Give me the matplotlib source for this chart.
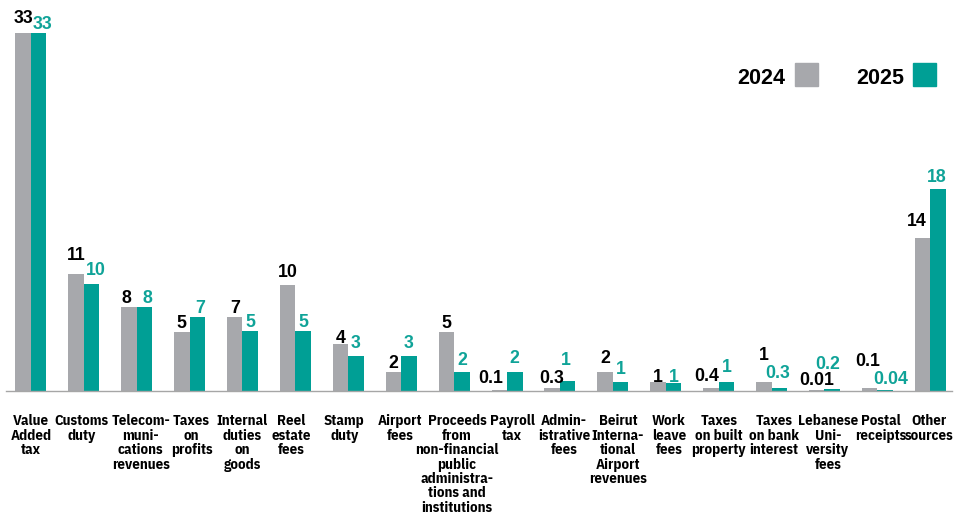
import matplotlib
matplotlib.use("Agg")
import matplotlib.pyplot as plt
from matplotlib.patches import Rectangle
from matplotlib.transforms import ScaledTranslation
import numpy as np

categories = [
    "Value\nAdded\ntax", "Customs\nduty", "Telecom-\nmuni-\ncations\nrevenues",
    "Taxes\non\nprofits", "Internal\nduties\non\ngoods", "Reel\nestate\nfees",
    "Stamp\nduty", "Airport\nfees",
    "Proceeds\nfrom\nnon-financial\npublic\nadministra-\ntions and\ninstitutions",
    "Payroll\ntax", "Admin-\nistrative\nfees", "Beirut\nInterna-\ntional\nAirport\nrevenues",
    "Work\nleave\nfees", "Taxes\non built\nproperty", "Taxes\non bank\ninterest",
    "Lebanese\nUni-\nversity\nfees", "Postal\nreceipts", "Other\nsources",
]
# bar heights
values_2024 = [33.0, 10.8, 7.75, 5.45, 6.85, 9.8, 4.35, 1.78, 5.47, 0.15, 0.35, 1.78,
               0.86, 0.35, 0.86, 0.1, 0.28, 14.1]
values_2025 = [33.0, 9.9, 7.75, 6.85, 5.55, 5.55, 3.26, 3.26, 1.78, 1.78, 0.95, 0.86,
               0.74, 0.86, 0.28, 0.18, 0.09, 18.6]
# printed value labels
labels_2024 = ["33", "11", "8", "5", "7", "10", "4", "2", "5", "0.1", "0.3", "2",
               "1", "0.4", "1", "0.01", "0.1", "14"]
labels_2025 = ["33", "10", "8", "7", "5", "5", "3", "3", "2", "2", "1", "1",
               "1", "1", "0.3", "0.2", "0.04", "18"]
series_names = ["2024", "2025"]

# label placement tweaks (pixels)
dx24 = [0, 0, -2, 0, 0, 0, 0, 0, 0, -9, 0, 0, 0, -4, 0, 0, -2, -5.5]
dx25 = [3.5, 4.5, 3, 2.5, 0, 0, 0, 0, 0, 0, -2, 0, 0, 0, -2, -5, 6, -1]
dy24 = [10, 14.3, 4.3, 3.7, 3.7, 8, 1.3, 4, 4, 7, 5, 9, 0, 7, 22, 5, 22, 12]
dy25 = [4.7, 8.7, 4.3, 3.7, 4.3, 4.3, 8, 8, 7, 9, 16, 8, 1, 10, 10, 20, 6, 7]
tick_dx = [0, -2, 4, 2, 0, -4, -4, -1, 3, 5, 4, 5, 3, 0, 2.5, 3.5, 3.5, -1]

GRAY = "#A7A8AC"
TEAL = "#009F95"
TEAL_TXT = "#0FA398"

W, H = 957, 515
fig = plt.figure(figsize=(W / 100, H / 100), dpi=100)
base_px = 391.3
ax = fig.add_axes([6 / W, (H - base_px) / H, (952 - 6) / W, base_px / H])

x = np.arange(len(categories))
w = 0.293
ax.bar(x - w / 2, values_2024, w, color=GRAY, linewidth=0)
ax.bar(x + w / 2, values_2025, w, color=TEAL, linewidth=0)

ax.set_xlim(-0.469, 17.41)
ax.set_ylim(0, base_px / 10.85)

px2pt = 72 / 100
vfont = dict(family=["Liberation Sans", "DejaVu Sans"], fontsize=12.8, fontweight="bold")
for i in range(len(categories)):
    ax.annotate(labels_2024[i], xy=(x[i] - w / 2, values_2024[i]),
                xytext=(dx24[i] * px2pt, dy24[i] * px2pt), textcoords="offset points",
                ha="center", va="baseline", color="black", **vfont)
    ax.annotate(labels_2025[i], xy=(x[i] + w / 2, values_2025[i]),
                xytext=(dx25[i] * px2pt, dy25[i] * px2pt), textcoords="offset points",
                ha="center", va="baseline", color=TEAL_TXT, **vfont)

for s in ["top", "right", "left"]:
    ax.spines[s].set_visible(False)
ax.spines["bottom"].set_color("#A6A6A6")
ax.spines["bottom"].set_linewidth(1.0)
ax.set_yticks([])
ax.set_xticks(x)
ax.set_xticklabels(categories,
                   family=["IBM Plex Sans Condensed", "Liberation Sans Narrow", "DejaVu Sans"],
                   fontsize=10.6, fontweight="bold", linespacing=1.04)
ax.tick_params(axis="x", length=0, pad=16.5)
for lbl, d in zip(ax.get_xticklabels(), tick_dx):
    lbl.set_transform(lbl.get_transform() + ScaledTranslation(d / 100, 0, fig.dpi_scale_trans))

# legend
lfont = dict(family=["Liberation Sans", "DejaVu Sans"], fontsize=15.5, fontweight="bold")
for name, tx, sx, col in [(series_names[0], 737, 795, GRAY), (series_names[1], 856, 912.7, TEAL)]:
    fig.text(tx / W, (H - 84) / H, name, ha="left", va="baseline", **lfont)
    fig.patches.append(Rectangle((sx / W, (H - 85.7) / H), 23 / W, 23 / H,
                                 transform=fig.transFigure, color=col, figure=fig))

fig.savefig("out.png", dpi=100)
